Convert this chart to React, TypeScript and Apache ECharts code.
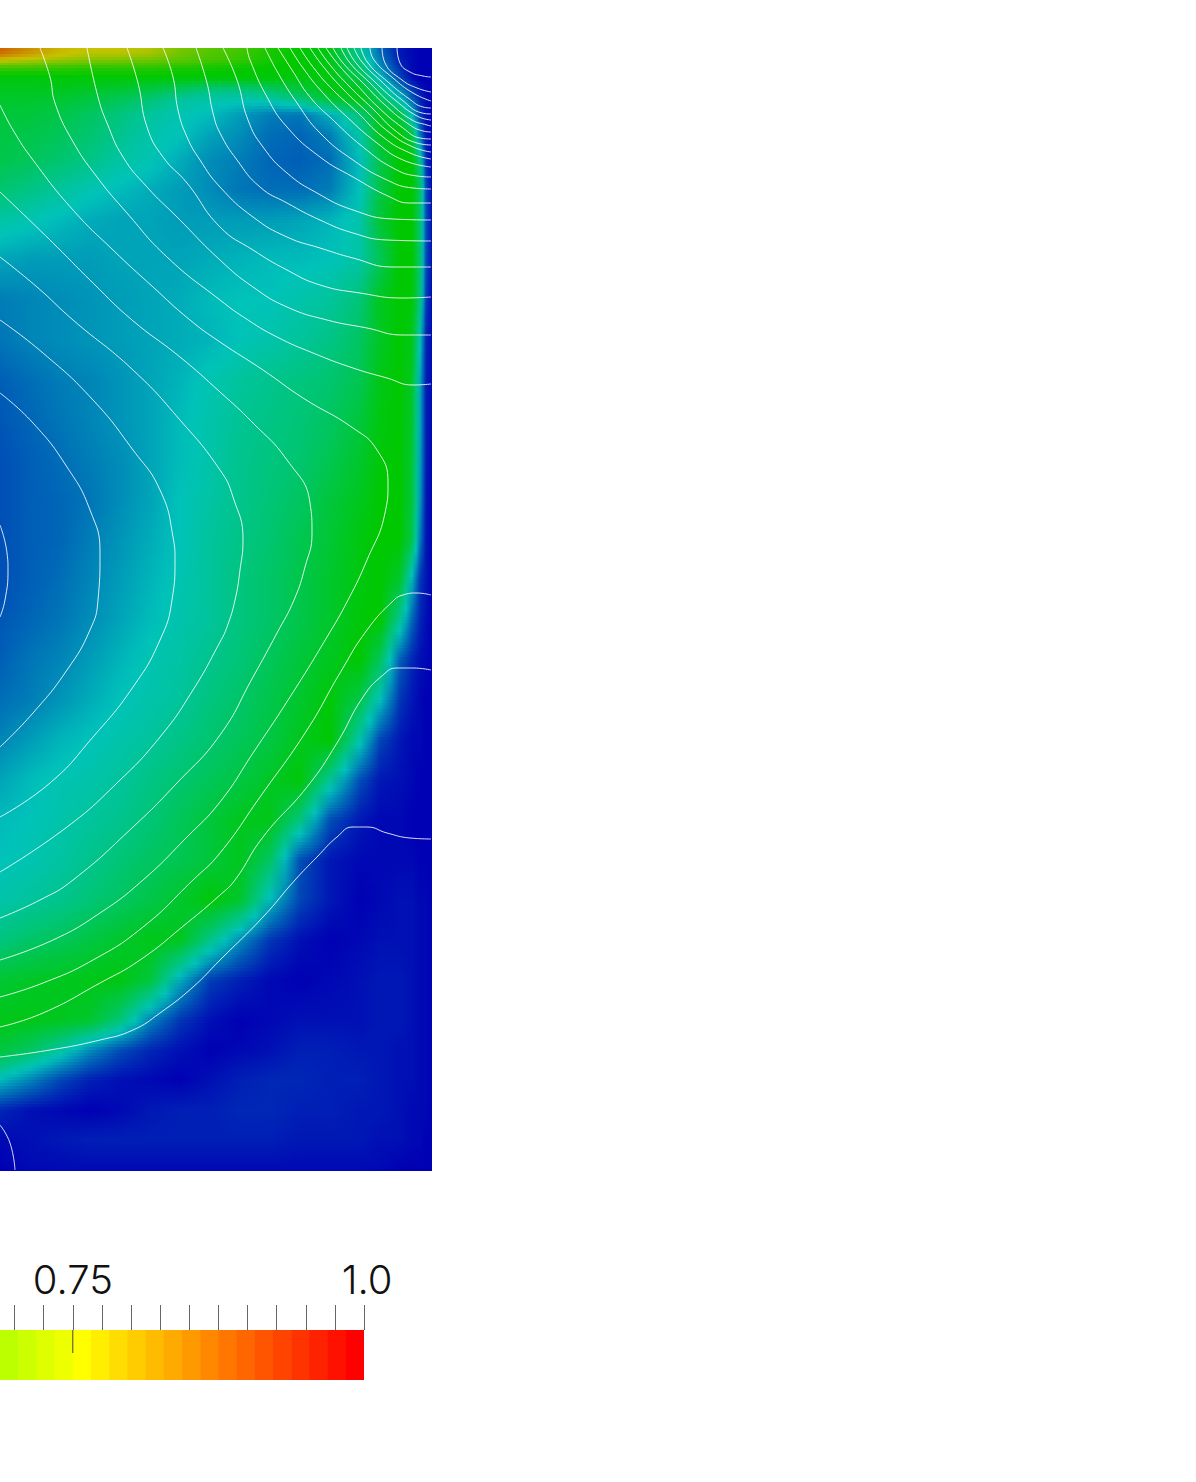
import React, { useEffect, useRef } from "react";
import * as echarts from "echarts";

const fieldXs = [0, 30, 60, 90, 120, 150, 180, 210, 240, 270, 300, 330, 360, 380, 400, 412, 420, 426, 432];
const fieldYs = [48, 54, 60, 68, 78, 90, 100, 115, 135, 160, 190, 220, 260, 300, 340, 380, 420, 460, 500, 540, 580, 620, 660, 700, 740, 780, 820, 860, 900, 940, 980, 1020, 1050, 1080, 1110, 1140, 1171];
const fieldRows = [
  [85, 78, 72, 70, 70, 68, 62, 59, 57, 53, 50, 48, 30, 13, 3, 1, 0, 0, 0],
  [82, 76, 71, 68, 68, 66, 61, 58, 56, 52, 50, 47, 30, 14, 3, 1, 0, 0, 0],
  [70, 67, 65, 63, 62, 61, 59, 57, 55, 52, 50, 47, 33, 16, 4, 1, 0, 0, 0],
  [56, 56, 55, 54, 54, 54, 53, 52, 51, 50, 50, 48, 36, 19, 6, 1, 0, 0, 0],
  [48, 48, 49, 49, 49, 49, 49, 49, 49, 49, 48, 48, 40, 24, 9, 2, 0, 0, 0],
  [46, 46, 46, 45, 43, 41, 37, 33, 33, 36, 42, 48, 46, 33, 18, 8, 3, 1, 0],
  [44, 44, 43, 41, 38, 34, 29, 27, 26, 27, 32, 42, 48, 40, 26, 13, 5, 2, 0],
  [42, 42, 40, 37, 33, 29, 26, 24, 20, 16, 15, 22, 34, 46, 42, 24, 8, 2, 0],
  [41, 40, 38, 35, 31, 27, 25, 21, 18, 14, 13, 16, 28, 46, 50, 42, 16, 3, 0],
  [40, 38, 35, 32, 28, 26, 22, 18, 16, 13, 12, 14, 24, 40, 50, 50, 32, 6, 0],
  [35, 32, 29, 26, 24, 22, 20, 18, 15, 14, 14, 16, 25, 40, 50, 50, 38, 10, 1],
  [28, 26, 24, 22, 21, 21, 20, 20, 20, 20, 21, 23, 27, 43, 50, 50, 36, 10, 2],
  [21, 20, 20, 20, 21, 21, 21, 22, 23, 24, 24, 25, 28, 38, 50, 50, 36, 10, 2],
  [16, 17, 18, 19, 20, 21, 22, 24, 25, 25, 27, 29, 34, 46, 50, 49, 34, 8, 1],
  [15, 17, 18, 19, 20, 21, 22, 23, 25, 27, 29, 32, 37, 45, 50, 47, 26, 5, 1],
  [12, 14, 16, 17, 19, 21, 23, 26, 29, 31, 33, 35, 39, 47, 50, 45, 22, 4, 1],
  [11, 13, 15, 17, 19, 21, 24, 27, 30, 32, 34, 37, 42, 48, 50, 44, 22, 4, 1],
  [10, 12, 14, 16, 18, 21, 24, 27, 31, 33, 35, 39, 44, 49, 50, 43, 21, 4, 0],
  [10, 12, 13, 15, 18, 21, 25, 28, 31, 34, 37, 42, 46, 50, 50, 42, 20, 3, 0],
  [10, 12, 13, 16, 19, 22, 25, 29, 32, 35, 39, 43, 48, 50, 50, 40, 16, 3, 0],
  [10, 12, 14, 17, 20, 23, 26, 29, 33, 36, 40, 44, 48, 50, 44, 23, 7, 3, 0],
  [11, 13, 15, 18, 21, 24, 27, 29, 33, 36, 40, 44, 49, 50, 30, 13, 5, 2, 0],
  [12, 15, 17, 20, 23, 26, 28, 31, 34, 38, 42, 46, 50, 38, 12, 5, 2, 1, 0],
  [14, 16, 19, 22, 25, 27, 29, 33, 36, 40, 44, 49, 40, 25, 7, 3, 1, 0, 0],
  [17, 20, 23, 25, 27, 29, 32, 35, 38, 41, 46, 50, 27, 9, 3, 1, 1, 0, 0],
  [21, 24, 26, 27, 29, 32, 35, 38, 41, 45, 49, 30, 10, 3, 2, 1, 0, 0, 0],
  [24, 25, 27, 29, 31, 34, 38, 42, 46, 47, 33, 10, 3, 1, 1, 0, 0, 0, 0],
  [25, 26, 28, 31, 34, 37, 39, 42, 46, 37, 10, 3, 1, 1, 1, 1, 0, 0, 0],
  [27, 29, 31, 34, 37, 40, 44, 49, 44, 24, 9, 3, 0, 1, 2, 2, 1, 1, 0],
  [33, 36, 38, 41, 44, 47, 46, 32, 18, 7, 2, 0, 1, 2, 2, 2, 1, 1, 0],
  [43, 45, 46, 47, 48, 42, 22, 8, 4, 1, 0, 1, 2, 3, 3, 2, 1, 1, 0],
  [47, 47, 46, 44, 34, 17, 7, 2, 0, 1, 2, 2, 2, 3, 3, 2, 1, 1, 0],
  [42, 37, 29, 18, 10, 5, 2, 0, 1, 2, 4, 4, 3, 3, 2, 2, 1, 1, 0],
  [24, 17, 9, 4, 2, 1, 0, 2, 4, 5, 5, 4, 4, 3, 2, 2, 1, 1, 0],
  [5, 2, 1, 0, 1, 3, 4, 4, 5, 5, 4, 4, 3, 3, 2, 1, 1, 1, 0],
  [1, 2, 3, 4, 4, 4, 4, 4, 4, 4, 3, 3, 3, 2, 2, 1, 1, 0, 0],
  [0, 1, 1, 1, 1, 1, 1, 1, 1, 1, 1, 1, 1, 1, 0, 0, 0, 0, 0],
];

// Value -> colour stops of the field
const fieldStops = [
  [0, 0, 0, 180],
  [25, 0, 195, 185],
  [50, 0, 200, 0],
  [70, 200, 195, 0],
  [85, 205, 95, 0],
];

// White iso-lines
const contourLines: number[][][] = [
  [[40, 48], [50, 77], [55, 103], [72, 140], [97, 177], [127, 213], [167, 257], [220, 300], [248, 320], [277, 337], [313, 353], [353, 368], [387, 378], [413, 385], [431, 384]],
  [[87, 48], [98, 97], [107, 123], [123, 157], [147, 187], [177, 217], [220, 260], [253, 287], [287, 307], [327, 320], [367, 328], [403, 335], [431, 335]],
  [[127, 48], [138, 83], [147, 127], [163, 157], [187, 183], [220, 227], [253, 250], [287, 270], [320, 285], [360, 293], [403, 298], [431, 297]],
  [[163, 48], [173, 77], [178, 110], [187, 137], [200, 160], [220, 187], [253, 217], [287, 237], [320, 248], [353, 258], [393, 267], [431, 267]],
  [[196, 48], [207, 83], [213, 113], [220, 133], [237, 160], [260, 187], [287, 203], [320, 220], [353, 233], [387, 240], [431, 241]],
  [[223, 48], [237, 80], [248, 120], [263, 147], [287, 173], [317, 193], [353, 210], [393, 219], [431, 220]],
  [[247, 48], [250, 60], [267, 97], [287, 127], [320, 157], [353, 177], [390, 197], [410, 203], [431, 203]],
  [[265, 48], [278, 73], [297, 103], [320, 133], [353, 160], [387, 180], [413, 188], [431, 189]],
  [[278, 48], [292, 70], [310, 97], [333, 120], [363, 147], [393, 168], [417, 176], [431, 177]],
  [[290, 48], [303, 68], [323, 93], [347, 117], [377, 143], [403, 160], [431, 167]],
  [[300, 48], [313, 67], [333, 90], [357, 112], [383, 137], [410, 153], [431, 159]],
  [[310, 48], [322, 65], [342, 88], [365, 110], [390, 133], [413, 147], [431, 152]],
  [[318, 48], [330, 65], [350, 87], [372, 108], [397, 132], [417, 143], [431, 145]],
  [[326, 48], [337, 63], [357, 85], [378, 107], [403, 128], [420, 138], [431, 139]],
  [[333, 48], [343, 63], [363, 83], [385, 105], [407, 123], [423, 131], [431, 132]],
  [[341, 48], [350, 63], [370, 83], [390, 103], [412, 120], [427, 125], [431, 126]],
  [[347, 48], [356, 63], [375, 82], [395, 100], [417, 116], [431, 120]],
  [[354, 48], [362, 62], [382, 82], [402, 100], [422, 113], [431, 114]],
  [[361, 48], [368, 63], [388, 82], [408, 98], [423, 107], [431, 108]],
  [[370, 48], [374, 60], [393, 78], [413, 93], [431, 101]],
  [[382, 48], [385, 63], [402, 80], [417, 88], [431, 92]],
  [[397, 48], [400, 63], [410, 72], [423, 76], [431, 77]],
  [[0, 105], [13, 130], [33, 160], [73, 210], [113, 250], [153, 287], [190, 320], [220, 342], [263, 370], [303, 398], [353, 428], [377, 450], [388, 483], [385, 513], [367, 560], [348, 600], [327, 637], [290, 697], [253, 753], [220, 802], [187, 837], [143, 880], [100, 913], [53, 940], [0, 960]],
  [[0, 192], [50, 240], [93, 283], [132, 320], [180, 357], [220, 392], [253, 423], [287, 460], [310, 503], [312, 533], [305, 567], [294, 600], [277, 633], [253, 677], [220, 735], [177, 783], [133, 827], [73, 880], [40, 900], [0, 918]],
  [[0, 257], [37, 287], [73, 320], [133, 370], [180, 420], [220, 470], [233, 497], [243, 540], [240, 570], [235, 600], [227, 627], [220, 642], [193, 690], [160, 737], [117, 783], [67, 827], [0, 872]],
  [[0, 320], [43, 353], [93, 400], [133, 450], [160, 490], [173, 537], [175, 560], [172, 600], [160, 640], [133, 687], [93, 737], [50, 783], [0, 817]],
  [[0, 393], [33, 423], [67, 467], [90, 510], [100, 553], [98, 600], [90, 630], [67, 670], [33, 713], [0, 747]],
  [[0, 525], [7, 553], [8, 570], [5, 600], [0, 617]],
  [[431, 670], [413, 668], [397, 668], [383, 675], [363, 697], [337, 743], [307, 787], [263, 837], [235, 880], [220, 895], [187, 923], [140, 960], [100, 983], [43, 1013], [0, 1027]],
  [[431, 595], [417, 593], [403, 595], [394, 600], [367, 630], [340, 673], [307, 730], [260, 797], [220, 853], [193, 880], [143, 927], [93, 960], [43, 983], [0, 997]],
  [[431, 839], [410, 838], [387, 833], [367, 827], [353, 827], [337, 837], [317, 857], [295, 880], [263, 917], [220, 960], [193, 987], [160, 1013], [133, 1030], [100, 1040], [50, 1050], [0, 1057]],
  [[0, 1125], [10, 1143], [15, 1170]],
];

// Colour bar
const barStep = 0.015625;
const barStart = 0.6875;
const barColors = ["#bbff00", "#ccff00", "#ddff00", "#eeff00", "#ffff00", "#ffee00", "#ffdd00", "#ffcc00", "#ffbb00", "#ffaa00", "#ff9900", "#ff8800", "#ff7700", "#ff6600", "#ff5500", "#ff4400", "#ff3300", "#ff2200", "#ff1100", "#ff0000"];
const barTicks = [0.7, 0.725, 0.75, 0.775, 0.8, 0.825, 0.85, 0.875, 0.9, 0.925, 0.95, 0.975, 1.0];
const barLabels = [0.75, 1.0];

function fieldColor(v: number): string {
  for (let i = 1; i < fieldStops.length; i++) {
    const a = fieldStops[i - 1];
    const b = fieldStops[i];
    if (v <= b[0]) {
      const t = (v - a[0]) / (b[0] - a[0]);
      return `rgb(${Math.round(a[1] + (b[1] - a[1]) * t)},${Math.round(a[2] + (b[2] - a[2]) * t)},${Math.round(a[3] + (b[3] - a[3]) * t)})`;
    }
  }
  const l = fieldStops[fieldStops.length - 1];
  return `rgb(${l[1]},${l[2]},${l[3]})`;
}

// Smooth (Gouraud-style) shading of one table row band: thin strips, each with a
// horizontal gradient whose colour stops sit on the table's columns.
function stripFill(top: number[], bottom: number[], t: number) {
  const colorStops: { offset: number; color: string }[] = [];
  const span = fieldXs[fieldXs.length - 1];
  const at = (i: number) => top[i] + (bottom[i] - top[i]) * t;
  for (let i = 0; i < fieldXs.length; i++) {
    colorStops.push({ offset: fieldXs[i] / span, color: fieldColor(at(i)) });
    if (i < fieldXs.length - 1) {
      colorStops.push({ offset: (fieldXs[i] + fieldXs[i + 1]) / 2 / span, color: fieldColor((at(i) + at(i + 1)) / 2) });
    }
  }
  return { type: "linear", x: 0, y: 0, x2: 1, y2: 0, colorStops };
}

export default function App() {
  const ref = useRef<HTMLDivElement>(null);

  useEffect(() => {
    if (!ref.current) return;
    const chart = echarts.init(ref.current, undefined, { renderer: "svg" });

    const bands = fieldRows.slice(0, -1).map((_, j) => [0, fieldYs[j], fieldXs[fieldXs.length - 1], fieldYs[j + 1], j]);

    const contourSeries = contourLines.map((line) => ({
      type: "line",
      xAxisIndex: 0,
      yAxisIndex: 0,
      data: line,
      smooth: true,
      symbol: "none",
      silent: true,
      z: 5,
      lineStyle: { color: "#ffffff", width: 1, opacity: 0.85 },
    }));

    const barCells = barColors.map((_, k) => [barStart + k * barStep, barStart + (k + 1) * barStep]);

    chart.setOption({
      animation: false,
      backgroundColor: "#ffffff",
      grid: [
        { left: 0, top: 48, width: 432, height: 1123, containLabel: false },
        { left: -1, top: 1330, width: 365, height: 50, containLabel: false },
      ],
      xAxis: [
        { type: "value", gridIndex: 0, min: 0, max: 432, show: false },
        {
          type: "value",
          gridIndex: 1,
          min: barStart,
          max: 1,
          position: "top",
          axisLine: { show: false },
          splitLine: { show: false },
          axisTick: { show: true, length: 25, customValues: barTicks, lineStyle: { color: "#666666", width: 1 } },
          axisLabel: {
            show: true,
            customValues: barLabels,
            margin: 31,
            fontFamily: "Inter",
            fontWeight: 300,
            fontSize: 40,
            color: "#111111",
            formatter: (v: number) => (v === 1 ? "{a|1.0}" : String(v)),
            rich: { a: { fontFamily: "Inter", fontWeight: 300, fontSize: 40, color: "#111111", padding: [0, 0, 0, 6] } },
          },
        },
      ],
      yAxis: [
        { type: "value", gridIndex: 0, min: 48, max: 1171, inverse: true, show: false },
        { type: "value", gridIndex: 1, min: 0, max: 50, inverse: true, show: false },
      ],
      series: [
        {
          type: "custom",
          xAxisIndex: 0,
          yAxisIndex: 0,
          silent: true,
          z: 1,
          data: bands,
          encode: { x: [0, 2], y: [1, 3] },
          renderItem: (_: any, api: any) => {
            const p0 = api.coord([api.value(0), api.value(1)]);
            const p1 = api.coord([api.value(2), api.value(3)]);
            const j = api.value(4);
            const h = p1[1] - p0[1];
            const n = Math.max(1, Math.round(h / 3));
            const children: any[] = [];
            for (let k = 0; k < n; k++) {
              const t = (k + 0.5) / n;
              const y0 = Math.round(p0[1] + (h * k) / n);
              const y1 = Math.round(p0[1] + (h * (k + 1)) / n);
              children.push({
                type: "rect",
                shape: { x: p0[0], y: y0, width: p1[0] - p0[0], height: y1 - y0 },
                style: { fill: stripFill(fieldRows[j], fieldRows[j + 1], t) },
              });
            }
            return { type: "group", children };
          },
        },
        ...contourSeries,
        {
          type: "custom",
          xAxisIndex: 1,
          yAxisIndex: 1,
          silent: true,
          z: 3,
          data: barCells,
          encode: { x: [0, 1] },
          renderItem: (params: any, api: any) => {
            const p0 = api.coord([api.value(0), 0]);
            const p1 = api.coord([api.value(1), 50]);
            const last = params.dataIndex === barColors.length - 1;
            return {
              type: "rect",
              shape: { x: p0[0], y: p0[1], width: p1[0] - p0[0] + (last ? 0 : 0.6), height: p1[1] - p0[1] },
              style: { fill: barColors[params.dataIndex] },
            };
          },
        },
        {
          type: "line",
          xAxisIndex: 1,
          yAxisIndex: 1,
          data: [[0.75, 0], [0.75, 23]],
          symbol: "none",
          silent: true,
          z: 6,
          lineStyle: { color: "#444444", width: 1 },
        },
      ],
    });

    return () => chart.dispose();
  }, []);

  return <div ref={ref} style={{ position: "absolute", left: 0, top: 0, width: 1196, height: 1482 }} />;
}
